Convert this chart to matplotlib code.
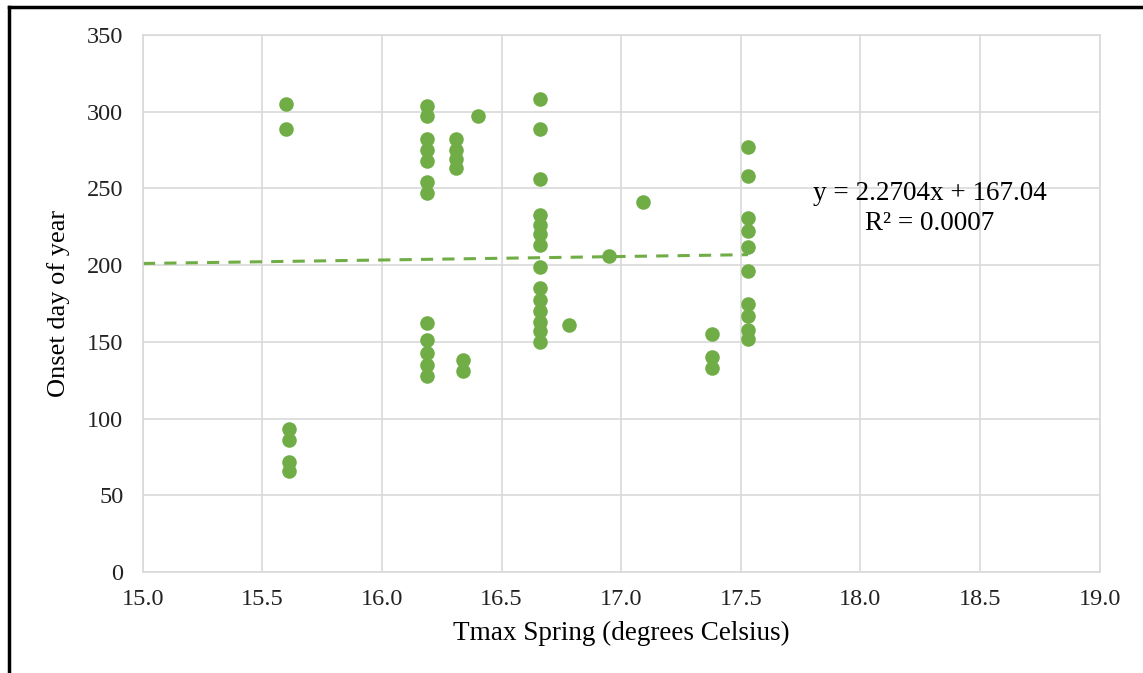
import matplotlib.pyplot as plt
from matplotlib.lines import Line2D

# Tmax spring (deg C) and onset day of year
tmax = [15.60, 15.60,
        15.61, 15.61, 15.61, 15.61,
        16.19, 16.19, 16.19, 16.19, 16.19, 16.19, 16.19,
        16.19, 16.19, 16.19, 16.19, 16.19,
        16.31, 16.31, 16.31, 16.31,
        16.34, 16.34,
        16.40,
        16.66, 16.66, 16.66, 16.66, 16.66, 16.66, 16.66,
        16.66, 16.66, 16.66, 16.66, 16.66, 16.66, 16.66,
        16.78, 16.95, 17.09,
        17.38, 17.38, 17.38,
        17.53, 17.53, 17.53, 17.53, 17.53, 17.53, 17.53,
        17.53, 17.53, 17.53]
onset = [305, 289,
         93, 86, 72, 66,
         304, 297, 282, 275, 268, 254, 247,
         162, 151, 143, 135, 128,
         282, 275, 269, 263,
         138, 131,
         297,
         308, 289, 256, 233, 226, 220, 213,
         199, 185, 177, 170, 163, 157, 150,
         161, 206, 241,
         155, 140, 133,
         277, 258, 231, 222, 212, 196, 175,
         167, 158, 152]

# trend line as reported on the chart
slope = 2.2704
intercept = 167.04
r2 = 0.0007
trend_x = [15.0, 17.53]

green = '#70AD47'
plt.rcParams['font.family'] = ['Liberation Serif', 'DejaVu Serif']

fig = plt.figure(figsize=(11.43, 6.73), dpi=100)
ax = fig.add_axes([0.125, 0.150, 0.837, 0.798])

ax.scatter(tmax, onset, s=110, color=green, zorder=3, linewidths=0)
ax.plot(trend_x, [slope * x + intercept for x in trend_x], color=green,
        lw=2.2, ls=(0, (4, 3)), zorder=2)

ax.set_xlim(15.0, 19.0)
ax.set_ylim(0, 350)
ax.set_xticks([15.0 + 0.5 * i for i in range(9)])
ax.set_xticklabels(['%.1f' % (15.0 + 0.5 * i) for i in range(9)])
ax.set_yticks(range(0, 351, 50))
ax.grid(True, color='#D9D9D9', lw=1.2)
ax.set_axisbelow(True)
for s in ax.spines.values():
    s.set_color('#D9D9D9')
    s.set_linewidth(1.2)
ax.tick_params(length=0, labelsize=17.5, colors='#222222')
ax.tick_params(axis='x', pad=12)
ax.tick_params(axis='y', pad=14)

ax.set_xlabel('Tmax Spring (degrees Celsius)', fontsize=19.5, labelpad=8)
ax.set_ylabel('Onset day of year', fontsize=19, labelpad=12)

ax.text(18.29, 237, 'y = 2.2704x + 167.04\nR² = %.4f' % r2, fontsize=19.5,
        ha='center', va='center', linespacing=1.3)

# frame round the picture
fig.add_artist(Line2D([0.008, 1.0], [0.990, 0.990], color='black', lw=2.5,
                      transform=fig.transFigure))
fig.add_artist(Line2D([0.008, 0.008], [0.0, 0.990], color='black', lw=2.5,
                      transform=fig.transFigure))

fig.savefig('out.png', dpi=100)
